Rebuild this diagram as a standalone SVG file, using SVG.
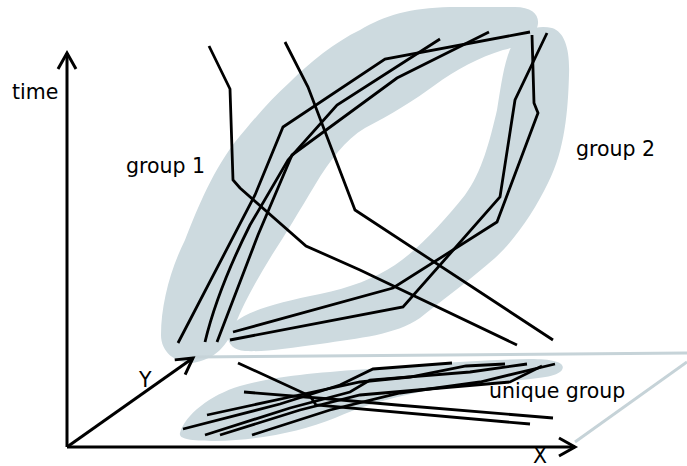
<svg xmlns="http://www.w3.org/2000/svg" width="687" height="466" viewBox="0 0 687 466">
<style>
.blob{fill:#cddadf;stroke:none}
.plane{fill:none;stroke:#c6d3d8;stroke-width:3}
.axis{fill:none;stroke:#000;stroke-width:3}
.tr{fill:none;stroke:#000;stroke-width:2.8;stroke-linejoin:miter;stroke-linecap:butt}
.lbl{font-family:"DejaVu Sans",sans-serif;font-size:20.5px;fill:#000}
</style>
<defs>
<marker id="arr" markerUnits="userSpaceOnUse" markerWidth="24" markerHeight="24" viewBox="-20 -12 24 24" refX="0" refY="0" orient="auto" overflow="visible">
<path d="M -16,-9 L 0,0 L -16,9" fill="none" stroke="#000" stroke-width="3"/>
</marker>
</defs>
<rect width="687" height="466" fill="#fff"/>
<g id="blobs">
<path id="blob-group1" class="blob" d="M 192,363 C 175,363 161,352 161,335 C 161,305 170,270 185,240 C 195,215 210,175 235,142 C 255,118 270,100 290,82 C 310,62 335,42 360,30 C 385,15 410,8 450,7 L 515,7 C 535,7 542,18 536,30 C 532,40 520,46 503,50 C 480,57 455,70 435,85 C 415,100 390,115 365,128 C 345,140 330,160 315,185 C 300,210 285,235 272,255 C 258,278 245,300 235,325 C 228,345 215,360 192,363 Z"/>
<path id="blob-group2" class="blob" d="M 245,351 C 228,350 222,335 235,322 C 250,310 280,302 320,294 C 350,288 375,278 395,265 C 420,248 445,220 465,195 C 482,172 490,140 497,110 C 502,80 505,55 515,40 C 525,28 540,25 552,28 C 565,32 570,50 569,75 C 568,110 565,150 548,183 C 535,210 515,240 495,258 C 470,280 445,298 420,318 C 395,335 360,338 320,344 C 290,348 265,352 245,351 Z"/>
<path id="blob-unique" class="blob" d="M 180,433 C 185,415 210,395 240,386 C 270,377 320,372 370,369 C 420,365 470,360 530,359 C 555,359 566,363 562,370 C 557,377 540,378 510,381 C 470,385 440,388 420,392 C 385,399 360,407 335,418 C 300,432 260,440 215,441 C 195,441 178,440 180,433 Z"/>
</g>
<g id="plane">
<path class="plane" d="M 193,357 L 687,353"/>
<path class="plane" d="M 687,362 L 575,442"/>
</g>
<g id="axes">
<path class="axis" d="M 67,447 L 67,53" marker-end="url(#arr)"/>
<path class="axis" d="M 67,447 L 575,447" marker-end="url(#arr)"/>
<path class="axis" d="M 67,447 L 193,358" marker-end="url(#arr)"/>
</g>
<g id="trajectories">
<path class="tr" d="M 209,46 L 230,89 L 233,180 L 240,188 L 306,246 L 360,270 L 517,345"/>
<path class="tr" d="M 285,42 L 308,87 L 355,210 L 553,340"/>
<path class="tr" d="M 178,343 L 255,195 L 283,127 L 385,59 L 530,32"/>
<path class="tr" d="M 205,342 C 215,300 235,255 250,225 L 288,160 L 337,105 L 440,39"/>
<path class="tr" d="M 217,342 L 258,235 L 292,155 L 397,78 L 489,32"/>
<path class="tr" d="M 532,35 L 534,103 L 538,113 L 497,222 L 393,288 L 233,332"/>
<path class="tr" d="M 547,33 L 515,100 L 500,197 L 403,307 L 230,340"/>
<path class="tr" d="M 238,363 L 310,396 L 316,405 L 530,424"/>
<path class="tr" d="M 244,392 L 330,399 L 397,405 L 553,418"/>
<path class="tr" d="M 183,429 L 280,404 L 340,385 L 373,369 L 452,363"/>
<path class="tr" d="M 207,415 L 290,397 L 360,382 L 410,377 L 466,366 L 505,364"/>
<path class="tr" d="M 205,435 L 290,408 L 350,392 L 370,380 L 470,372 L 527,364"/>
<path class="tr" d="M 220,435 L 300,410 L 360,395 L 510,382 L 542,366"/>
<path class="tr" d="M 252,435 L 330,410 L 400,393 L 480,382 L 555,364"/>
</g>
<g id="labels">
<text class="lbl" x="12" y="99">time</text>
<text class="lbl" x="126" y="173">group 1</text>
<text class="lbl" x="576" y="156">group 2</text>
<text class="lbl" x="489" y="398">unique group</text>
<text class="lbl" x="139" y="387">Y</text>
<text class="lbl" x="533" y="463">X</text>
</g>
</svg>
